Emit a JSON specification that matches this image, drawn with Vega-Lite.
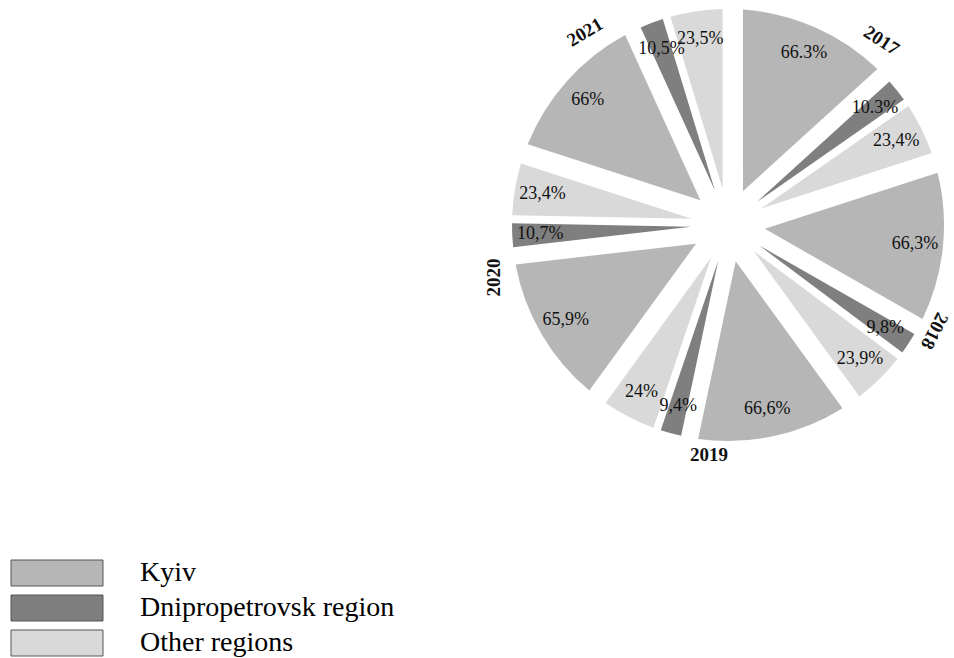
{
  "$schema": "https://vega.github.io/schema/vega-lite/v6.json",
  "width": 450,
  "height": 450,
  "autosize": "none",
  "padding": {"left": 503, "top": 0, "right": 1, "bottom": 208},
  "background": "white",
  "config": {"view": {"stroke": null}, "font": "Liberation Serif"},
  "datasets": {
    "shares": [
      {"idx": 1, "year": "2017", "region": "Kyiv", "value": 66.3, "label": "66.3%"},
      {"idx": 2, "year": "2017", "region": "Dnipropetrovsk region", "value": 10.3, "label": "10.3%"},
      {"idx": 3, "year": "2017", "region": "Other regions", "value": 23.4, "label": "23,4%"},
      {"idx": 4, "year": "2018", "region": "Kyiv", "value": 66.3, "label": "66,3%"},
      {"idx": 5, "year": "2018", "region": "Dnipropetrovsk region", "value": 9.8, "label": "9,8%"},
      {"idx": 6, "year": "2018", "region": "Other regions", "value": 23.9, "label": "23,9%"},
      {"idx": 7, "year": "2019", "region": "Kyiv", "value": 66.6, "label": "66,6%"},
      {"idx": 8, "year": "2019", "region": "Dnipropetrovsk region", "value": 9.4, "label": "9,4%"},
      {"idx": 9, "year": "2019", "region": "Other regions", "value": 24.0, "label": "24%"},
      {"idx": 10, "year": "2020", "region": "Kyiv", "value": 65.9, "label": "65,9%"},
      {"idx": 11, "year": "2020", "region": "Dnipropetrovsk region", "value": 10.7, "label": "10,7%"},
      {"idx": 12, "year": "2020", "region": "Other regions", "value": 23.4, "label": "23,4%"},
      {"idx": 13, "year": "2021", "region": "Kyiv", "value": 66.0, "label": "66%"},
      {"idx": 14, "year": "2021", "region": "Dnipropetrovsk region", "value": 10.5, "label": "10,5%"},
      {"idx": 15, "year": "2021", "region": "Other regions", "value": 23.5, "label": "23,5%"}
    ],
    "years": [
      {"year": "2017", "w": 100},
      {"year": "2018", "w": 100},
      {"year": "2019", "w": 100},
      {"year": "2020", "w": 100},
      {"year": "2021", "w": 100}
    ]
  },
  "layer": [
    {
      "data": {"name": "shares"},
      "mark": {
        "type": "arc",
        "outerRadius": 216,
        "innerRadius": 37,
        "padAngle": {"expr": "2*asin(min(1, 37*sin((datum.value_end-datum.value_start)*PI/500)/sqrt(37*37+216*216)))"}
      },
      "encoding": {
        "theta": {"field": "value", "type": "quantitative", "stack": true},
        "order": {"field": "idx", "type": "quantitative"},
        "color": {
          "field": "region",
          "type": "nominal",
          "scale": {
            "domain": ["Kyiv", "Dnipropetrovsk region", "Other regions"],
            "range": ["#b6b6b6", "#7f7f7f", "#d9d9d9"]
          },
          "legend": {
            "title": null,
            "orient": "none",
            "legendX": -460,
            "legendY": 559,
            "direction": "vertical",
            "padding": 0,
            "symbolType": "M-3.538,-1L3.538,-1L3.538,1L-3.538,1Z",
            "symbolSize": 676,
            "symbolOpacity": 1,
            "labelFont": "Liberation Serif",
            "labelFontSize": 28,
            "labelColor": "#000000",
            "labelOffset": 69,
            "labelLimit": 0,
            "rowPadding": 5,
            "encode": {
              "symbols": {
                "update": {
                  "stroke": {"value": "#555555"},
                  "strokeWidth": {"value": 1}
                }
              }
            }
          }
        }
      }
    },
    {
      "data": {"name": "shares"},
      "mark": {"type": "text", "radius": 188, "fontSize": 18, "font": "Liberation Serif", "color": "#111111"},
      "encoding": {
        "theta": {"field": "value", "type": "quantitative", "stack": true},
        "order": {"field": "idx", "type": "quantitative"},
        "text": {"field": "label"}
      }
    },
    {
      "data": {"name": "years"},
      "mark": {
        "type": "text",
        "radius": {"expr": "datum.year == '2019' ? 231 : datum.year == '2018' ? 232 : 240"},
        "thetaOffset": {"expr": "datum.year == '2017' ? 0.066 : datum.year == '2018' ? 0.16 : datum.year == '2019' ? 0.082 : datum.year == '2020' ? 0.094 : -0.01"},
        "fontSize": 19,
        "fontWeight": "bold",
        "font": "Liberation Serif",
        "color": "#111111",
        "angle": {"expr": "datum.year == '2017' ? 33 : datum.year == '2018' ? 117 : datum.year == '2020' ? 270 : datum.year == '2021' ? 329 : 0"}
      },
      "encoding": {
        "theta": {"field": "w", "type": "quantitative", "stack": true},
        "order": {"field": "year", "type": "ordinal"},
        "text": {"field": "year"}
      }
    }
  ]
}
